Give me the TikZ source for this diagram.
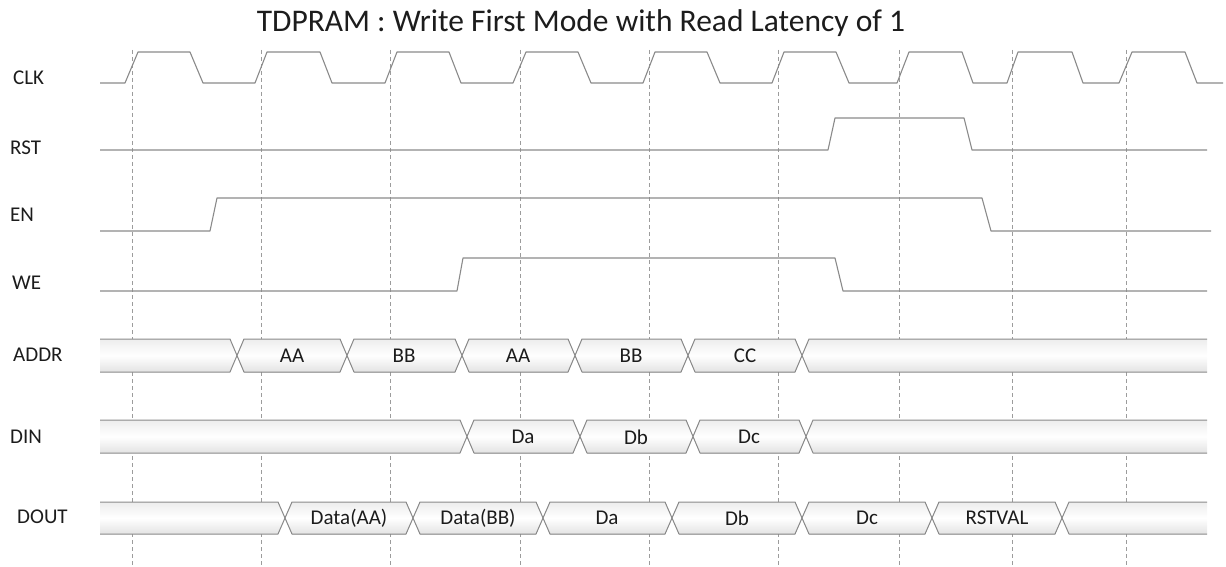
\documentclass[tikz,border=0pt]{standalone}
\usepackage{fontspec}
\setmainfont{Carlito}
\definecolor{sigc}{HTML}{8A8A8A}
\definecolor{gridc}{HTML}{9C9C9C}
\definecolor{txt}{HTML}{1C1C1C}
\definecolor{busTop}{HTML}{EDEDED}
\definecolor{busBot}{HTML}{E3E3E3}
\def\tdhw{7}
\def\tdend{1207}
\newcommand\tdMid[4]{% x1 x2 top bot
  \filldraw[busfill,busline] (#1,{(#3+#4)/2}) -- (#1+\tdhw,#3) -- (#2-\tdhw,#3) -- (#2,{(#3+#4)/2}) -- (#2-\tdhw,#4) -- (#1+\tdhw,#4) -- cycle;}
\newcommand\tdFirst[3]{% x2 top bot
  \path[busfill] (100,#2) -- (#1-\tdhw,#2) -- (#1,{(#2+#3)/2}) -- (#1-\tdhw,#3) -- (100,#3) -- cycle;
  \draw[busline] (100,#2) -- (#1-\tdhw,#2) -- (#1,{(#2+#3)/2}) -- (#1-\tdhw,#3) -- (100,#3);}
\newcommand\tdLast[3]{% x1 top bot
  \path[busfill] (\tdend,#2) -- (#1+\tdhw,#2) -- (#1,{(#2+#3)/2}) -- (#1+\tdhw,#3) -- (\tdend,#3) -- cycle;
  \draw[busline] (\tdend,#2) -- (#1+\tdhw,#2) -- (#1,{(#2+#3)/2}) -- (#1+\tdhw,#3) -- (\tdend,#3);}
\begin{document}
\begin{tikzpicture}[x=1pt,y=-1pt,
  sig/.style={draw=sigc, line width=1.1pt, line join=round},
  gridline/.style={draw=gridc, line width=0.9pt, dash pattern=on 4pt off 3pt},
  busfill/.style={top color=busTop, bottom color=busBot, middle color=white},
  busline/.style={draw=sigc, line width=1pt, line join=round},
  lbl/.style={font=\fontsize{21}{24}\selectfont, text=txt, anchor=west, inner sep=0pt},
  blbl/.style={font=\fontsize{21}{24}\selectfont, text=txt, inner sep=0pt}]
\useasboundingbox (0,0) rectangle (1226,567);

% title
\node[font=\fontsize{31.5}{36}\selectfont, text=txt, inner sep=0pt] (title) at (581,23) {TDPRAM : Write First Mode with Read Latency of 1};

% dashed clock-edge guides
\foreach \gx in {132,261,390,520,649,778,899,1012,1126}
  \draw[gridline] (\gx,50) -- (\gx,567);

% signal names
\node[lbl] (lclk) at (13,78) {CLK};
\node[lbl] (lrst) at (10,148) {RST};
\node[lbl] (len) at (10,215) {EN};
\node[lbl] (lwe) at (12,283) {WE};
\node[lbl] (laddr) at (13,355) {ADDR};
\node[lbl] (ldin) at (10,437) {DIN};
\node[lbl] (ldout) at (17,517) {DOUT};

% CLK
\draw[sig] (100,83) -- (125,83) -- (138,52) -- (190,52) -- (203,83) -- (255,83) -- (267,52) -- (320,52) -- (332,83) -- (385,83) -- (397,52) -- (449,52) -- (461,83) -- (513,83) -- (526,52) -- (578,52) -- (591,83) -- (643,83) -- (655,52) -- (707,52) -- (720,83) -- (772,83) -- (784,52) -- (836,52) -- (849,83) -- (897,83) -- (909,52) -- (962,52) -- (973,83) -- (1007,83) -- (1018,52) -- (1072,52) -- (1083,83) -- (1119,83) -- (1132,52) -- (1185,52) -- (1197,83) -- (1223,83);
% RST
\draw[sig] (100,150) -- (828,150) -- (835,118) -- (964,118) -- (972,150) -- (1207,150);
% EN
\draw[sig] (100,231) -- (210,231) -- (217,198) -- (982,198) -- (991,231) -- (1211,231);
% WE
\draw[sig] (100,291) -- (457,291) -- (463,258) -- (835,258) -- (843,291) -- (1207,291);

% ADDR bus
\tdFirst{237}{339}{372}
\tdMid{237}{347}{339}{372}
\tdMid{347}{462}{339}{372}
\tdMid{462}{575}{339}{372}
\tdMid{575}{688}{339}{372}
\tdMid{688}{802}{339}{372}
\tdLast{802}{339}{372}
\node[blbl] (a1) at (292,356) {AA};
\node[blbl] (a2) at (404,356) {BB};
\node[blbl] (a3) at (518,356) {AA};
\node[blbl] (a4) at (631,356) {BB};
\node[blbl] (a5) at (745,356) {CC};

% DIN bus
\tdFirst{467}{420}{453}
\tdMid{467}{580}{420}{453}
\tdMid{580}{693}{420}{453}
\tdMid{693}{806}{420}{453}
\tdLast{806}{420}{453}
\node[blbl] (d1) at (523,437) {Da};
\node[blbl] (d2) at (636,437) {Db};
\node[blbl] (d3) at (749,437) {Dc};

% DOUT bus
\tdFirst{285}{502}{534}
\tdMid{285}{413}{502}{534}
\tdMid{413}{543}{502}{534}
\tdMid{543}{672}{502}{534}
\tdMid{672}{802}{502}{534}
\tdMid{802}{932}{502}{534}
\tdMid{932}{1062}{502}{534}
\tdLast{1062}{502}{534}
\node[blbl] (o1) at (349,518) {Data(AA)};
\node[blbl] (o2) at (478,518) {Data(BB)};
\node[blbl] (o3) at (607,518) {Da};
\node[blbl] (o4) at (737,518) {Db};
\node[blbl] (o5) at (867,518) {Dc};
\node[blbl] (o6) at (997,518) {RSTVAL};
\end{tikzpicture}
\end{document}
